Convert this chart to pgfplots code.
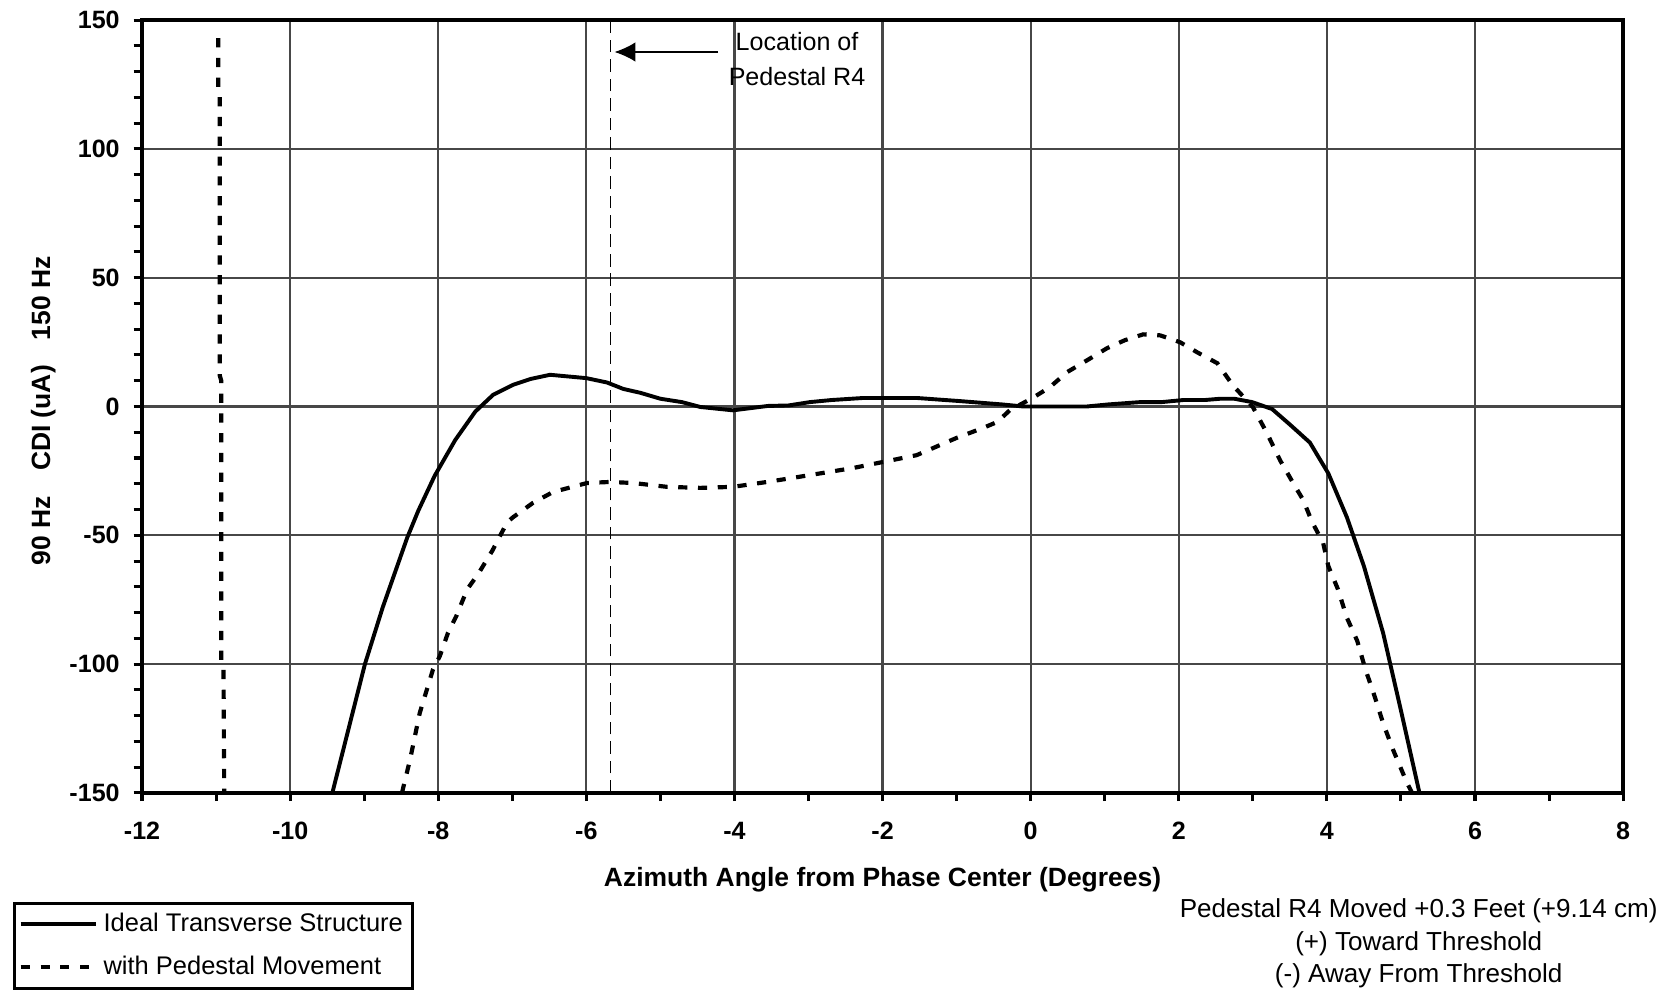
\documentclass[border=0pt]{standalone}
\usepackage{fontspec}
\setmainfont{Liberation Sans}
\usepackage{pgfplots}
\pgfplotsset{compat=1.18}
\usetikzlibrary{arrows.meta}
\begin{document}
\begin{tikzpicture}
\useasboundingbox (-51pt,-71.5pt) rectangle (549pt,284.7pt);
\begin{axis}[
  scale only axis,
  width=531.8pt, height=277.5pt,
  xmin=-12, xmax=8, ymin=-150, ymax=150,
  xtick={-12,-10,...,8}, ytick={-150,-100,...,150},
  minor x tick num=1, minor y tick num=4,
  tick align=outside, tick pos=left,
  major tick length=3pt, minor tick length=3pt,
  every tick/.style={black, line width=1.1pt},
  axis line style={black, line width=1.2pt},
  grid=major,
  major grid style={draw=black!72, line width=0.8pt},
  /pgf/number format/assume math mode=true,
  ticklabel style={font=\fontsize{9}{10}\selectfont\bfseries},
  xticklabel style={yshift=-4pt},
  yticklabel style={xshift=-1.5pt},
  xlabel={Azimuth Angle from Phase Center (Degrees)},
  ylabel={90 Hz\hspace{9pt}CDI (uA)\hspace{9pt}150 Hz},
  label style={font=\fontsize{9.5}{11}\selectfont\bfseries},
  xlabel style={at={(axis description cs:0.5,0)}, anchor=center, yshift=-31.2pt},
  ylabel style={at={(axis description cs:0,0.5)}, anchor=center, yshift=35.5pt, xshift=-1.5pt},
  unbounded coords=jump,
  legend style={at={(axis description cs:0,0)}, anchor=north west, xshift=-46.3pt, yshift=-39.1pt,
    draw=black, line width=1pt, font=\fontsize{9.15}{11}\selectfont, inner sep=1.5pt,
    row sep=3.3pt, cells={anchor=west}},
  legend image code/.code={\draw[#1] (0pt,0pt) -- (27pt,0pt);},
]
% Pedestal R4 location
\addplot[forget plot, black, line width=0.5pt, dash pattern=on 4.5pt off 2.5pt] coordinates {(-5.67,-150) (-5.67,150)};

\addplot[black, line width=1.4pt] coordinates {
(-9.43,-150) (-8.99,-100) (-8.75,-78) (-8.42,-51) (-8.27,-40.5) (-8.05,-27) (-7.77,-13) (-7.5,-2)
(-7.26,4.5) (-6.99,8.4) (-6.75,10.7) (-6.49,12.3) (-6.0,11) (-5.72,9.3) (-5.5,6.8) (-5.27,5.3)
(-5.0,3) (-4.71,1.7) (-4.46,-0.2) (-4.02,-1.5) (-3.55,0.2) (-3.27,0.4) (-2.98,1.7) (-2.69,2.5)
(-2.26,3.3) (-1.54,3.3) (-0.96,2.1) (-0.39,0.8) (-0.1,0) (0.76,0) (1.05,0.8) (1.48,1.7)
(1.77,1.7) (2.06,2.5) (2.35,2.5) (2.56,3) (2.75,3) (2.99,1.7) (3.26,-1) (3.50,-7) (3.77,-14)
(4.02,-26) (4.27,-43) (4.5,-62) (4.76,-88) (5.0,-118) (5.25,-150)
};
\addlegendentry{Ideal Transverse Structure}

\addplot[black, line width=1.5pt, dash pattern=on 3.3pt off 3.8pt] coordinates {
(-10.97,143) (-10.97,123) (-10.95,121) (-10.95,12) (-10.93,10) (-10.93,-100) (-10.90,-102) (-10.89,-150)
(-10,nan)
(-8.49,-150) (-8.38,-137) (-8.25,-119) (-8.07,-102) (-7.98,-97) (-7.87,-88) (-7.75,-81) (-7.61,-71)
(-7.46,-65) (-7.27,-56) (-7.07,-45) (-6.99,-43) (-6.72,-37.4) (-6.45,-33.2) (-5.99,-29.7)
(-5.68,-29.3) (-5.37,-29.7) (-4.91,-31.2) (-4.46,-31.6) (-4.02,-31.2) (-3.56,-29.3) (-3.21,-27.7)
(-2.40,-23.9) (-1.97,-21.4) (-1.54,-18.9) (-1.0,-12.2) (-0.64,-8.3) (-0.45,-6.0) (-0.28,-1.4)
(0.02,3.2) (0.26,7.5) (0.49,13.3) (0.76,17.9) (1.03,22.6) (1.27,25.7) (1.52,28.0) (1.75,27.6)
(2.02,24.9) (2.25,21.0) (2.52,16.8) (2.73,8.2) (3.0,-0.2) (3.19,-10.3) (3.37,-21) (3.55,-30)
(3.68,-36.3) (3.80,-44.8) (3.95,-53) (4.02,-62) (4.15,-71) (4.27,-82) (4.41,-91) (4.52,-102)
(4.65,-113) (4.76,-123) (4.89,-133) (5.08,-146) (5.15,-150)
};
\addlegendentry{with Pedestal Movement}

\draw[black, line width=0.6pt, -{Latex[length=7.5pt,width=7pt]}] (axis cs:-4.22,137.6) -- (axis cs:-5.62,137.6);
\node[font=\fontsize{9}{10}\selectfont, anchor=center] at (axis cs:-3.155,141.5) {Location of};
\node[font=\fontsize{9}{10}\selectfont, anchor=center] at (axis cs:-3.155,127.9) {Pedestal R4};
\end{axis}
\node[font=\fontsize{9.35}{10}\selectfont, anchor=center] at (458.4pt,-42.3pt) {Pedestal R4 Moved +0.3 Feet (+9.14 cm)};
\node[font=\fontsize{9.35}{10}\selectfont, anchor=center] at (458.4pt,-54.0pt) {(+) Toward Threshold};
\node[font=\fontsize{9.35}{10}\selectfont, anchor=center] at (458.4pt,-65.6pt) {(-) Away From Threshold};
\end{tikzpicture}
\end{document}
